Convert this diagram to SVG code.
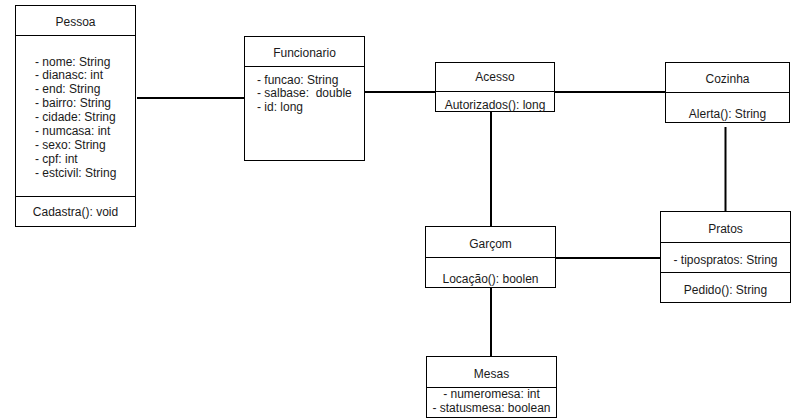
<svg xmlns="http://www.w3.org/2000/svg" width="792" height="419" viewBox="0 0 792 419">
<style>
.box{fill:#fff;stroke:#000;stroke-width:1}
.div{stroke:#000;stroke-width:1}
.t{font-family:"Liberation Sans",Arial,sans-serif;font-size:12px;fill:#1a1a1a;white-space:pre}
.c{text-anchor:middle}
.e{stroke:#000;stroke-width:2;fill:none}
</style>
<rect width="792" height="419" fill="#fff"/>
<g id="connectors">
<line class="e" x1="137" y1="98" x2="244" y2="98"/>
<line class="e" x1="365" y1="92" x2="435" y2="92"/>
<line class="e" x1="555" y1="92" x2="665" y2="92"/>
<line class="e" x1="725.5" y1="127" x2="725.5" y2="212"/>
<line class="e" x1="491" y1="112" x2="491" y2="226"/>
<line class="e" x1="555" y1="258" x2="661" y2="258"/>
<line class="e" x1="491" y1="287" x2="491" y2="356"/>
</g>
<g id="Pessoa">
<rect class="box" x="15.5" y="5.5" width="120" height="221"/>
<line class="div" x1="15.5" y1="35.5" x2="135.5" y2="35.5"/>
<line class="div" x1="15.5" y1="196.5" x2="135.5" y2="196.5"/>
<text class="t c" x="75.5" y="26">Pessoa</text>
<text class="t" x="35" y="65.5">- nome: String</text>
<text class="t" x="35" y="79.4">- dianasc: int</text>
<text class="t" x="35" y="93.3">- end: String</text>
<text class="t" x="35" y="107.2">- bairro: String</text>
<text class="t" x="35" y="121.1">- cidade: String</text>
<text class="t" x="35" y="135">- numcasa: int</text>
<text class="t" x="35" y="148.9">- sexo: String</text>
<text class="t" x="35" y="162.8">- cpf: int</text>
<text class="t" x="35" y="176.7">- estcivil: String</text>
<text class="t c" x="75.5" y="216">Cadastra(): void</text>
</g>
<g id="Funcionario">
<rect class="box" x="244.5" y="36.5" width="120" height="124"/>
<line class="div" x1="244.5" y1="66.5" x2="364.5" y2="66.5"/>
<text class="t c" x="304.5" y="57">Funcionario</text>
<text class="t" x="257" y="83.5">- funcao: String</text>
<text class="t" x="257" y="97.3" xml:space="preserve">- salbase:  double</text>
<text class="t" x="257" y="111">- id: long</text>
</g>
<g id="Acesso">
<rect class="box" x="435.5" y="62.5" width="119" height="49"/>
<line class="div" x1="435.5" y1="91.5" x2="554.5" y2="91.5"/>
<text class="t c" x="495" y="81">Acesso</text>
<text class="t c" x="495" y="109">Autorizados(): long</text>
</g>
<g id="Cozinha">
<rect class="box" x="665.5" y="62.5" width="124" height="60"/>
<line class="div" x1="665.5" y1="92.5" x2="789.5" y2="92.5"/>
<text class="t c" x="727.5" y="82.5">Cozinha</text>
<text class="t c" x="727.5" y="117.5">Alerta(): String</text>
</g>
<g id="Pratos">
<rect class="box" x="660.5" y="211.5" width="130" height="91"/>
<line class="div" x1="660.5" y1="242.5" x2="790.5" y2="242.5"/>
<line class="div" x1="660.5" y1="272.5" x2="790.5" y2="272.5"/>
<text class="t c" x="725.5" y="232.5">Pratos</text>
<text class="t c" x="725.5" y="263.5">- tipospratos: String</text>
<text class="t c" x="725.5" y="293.5">Pedido(): String</text>
</g>
<g id="Garcom">
<rect class="box" x="425.5" y="226.5" width="130" height="61"/>
<line class="div" x1="425.5" y1="257.5" x2="555.5" y2="257.5"/>
<text class="t c" x="490.5" y="247.5">Garçom</text>
<text class="t c" x="490.5" y="282.5">Locação(): boolen</text>
</g>
<g id="Mesas">
<rect class="box" x="426.5" y="356.5" width="130" height="61"/>
<line class="div" x1="426.5" y1="387.5" x2="556.5" y2="387.5"/>
<text class="t c" x="491.5" y="377.5">Mesas</text>
<text class="t c" x="491.5" y="398">- numeromesa: int</text>
<text class="t c" x="491.5" y="412">- statusmesa: boolean</text>
</g>
</svg>
